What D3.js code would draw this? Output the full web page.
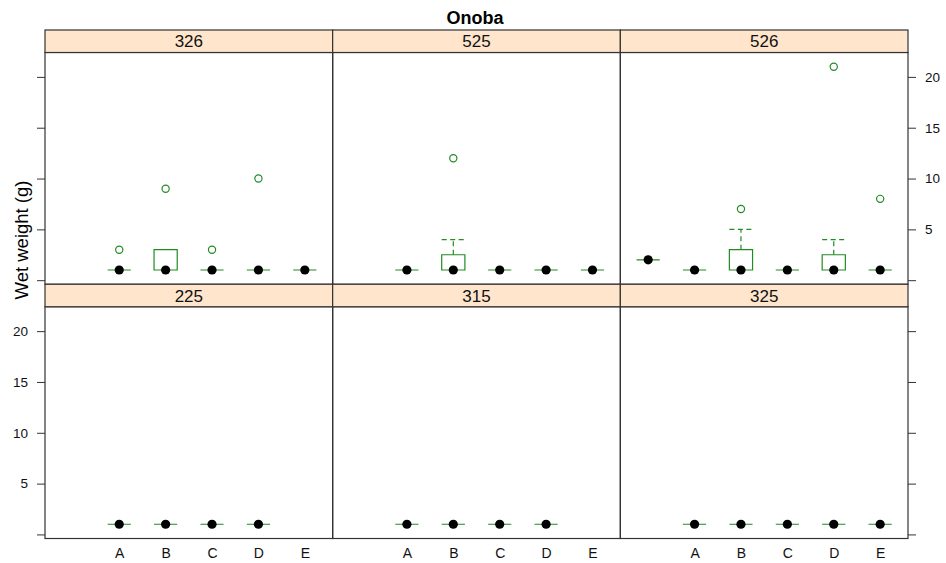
<!DOCTYPE html>
<html>
<head>
<meta charset="utf-8">
<script src="https://cdn.jsdelivr.net/npm/d3@7"></script>
<style>
  body { margin: 0; background: #fff; }
  svg { display: block; font-family: "Liberation Sans", Arial, Helvetica, sans-serif; }
</style>
</head>
<body>
<svg id="chart" width="946" height="563"></svg>
<script>
// ---- data ----
const title = "Onoba";
const yLabel = "Wet weight (g)";
const panelNames = ["326", "525", "526", "225", "315", "325"];
const categories = ["", "A", "B", "C", "D", "E"];
const yTickValues = [0, 5, 10, 15, 20];
const yTickLabels = ["", "5", "10", "15", "20"];

// five-number summaries per category:
// [lower whisker, lower hinge, median, upper hinge, upper whisker]; null = no observations
const stats326 = [null, [1, 1, 1, 1, 1], [1, 1, 1, 3, 3], [1, 1, 1, 1, 1], [1, 1, 1, 1, 1], [1, 1, 1, 1, 1]];
const stats525 = [null, [1, 1, 1, 1, 1], [1, 1, 1, 2.5, 4], [1, 1, 1, 1, 1], [1, 1, 1, 1, 1], [1, 1, 1, 1, 1]];
const stats526 = [[2, 2, 2, 2, 2], [1, 1, 1, 1, 1], [1, 1, 1, 3, 5], [1, 1, 1, 1, 1], [1, 1, 1, 2.5, 4], [1, 1, 1, 1, 1]];
const stats225 = [null, [1, 1, 1, 1, 1], [1, 1, 1, 1, 1], [1, 1, 1, 1, 1], [1, 1, 1, 1, 1], null];
const stats315 = [null, [1, 1, 1, 1, 1], [1, 1, 1, 1, 1], [1, 1, 1, 1, 1], [1, 1, 1, 1, 1], null];
const stats325 = [null, [1, 1, 1, 1, 1], [1, 1, 1, 1, 1], [1, 1, 1, 1, 1], [1, 1, 1, 1, 1], [1, 1, 1, 1, 1]];

// outlying observations: [category, value]
const outliers326 = [["A", 3], ["B", 9], ["C", 3], ["D", 10]];
const outliers525 = [["B", 12]];
const outliers526 = [["B", 7], ["D", 21], ["E", 8]];
const outliers225 = [];
const outliers315 = [];
const outliers325 = [];

const panelStats = [stats326, stats525, stats526, stats225, stats315, stats325];
const panelOutliers = [outliers326, outliers525, outliers526, outliers225, outliers315, outliers325];

// ---- layout ----
const svg = d3.select("#chart");
const gridLeft = 45, gridRight = 908, gridTop = 30, gridBottom = 538.5;
const nCol = 3, nRow = 2;
const stripH = 22.5;
const colW = (gridRight - gridLeft) / nCol;
const rowH = (gridBottom - gridTop) / nRow;
const boxCol = "#228B22";
const frameCol = "#333";
const stripFill = "#ffe5cc";

svg.append("text")
  .attr("x", 475).attr("y", 24)
  .attr("text-anchor", "middle")
  .attr("font-weight", "bold")
  .attr("font-size", 18)
  .attr("fill", "#000")
  .text(title);

svg.append("text")
  .attr("transform", "translate(28,240) rotate(-90)")
  .attr("text-anchor", "middle")
  .attr("font-size", 18.5)
  .attr("fill", "#000")
  .text(yLabel);

function styleAxis(g) {
  g.select(".domain").remove();
  g.selectAll(".tick line").attr("stroke", frameCol);
  g.selectAll(".tick text").attr("fill", "#111");
}

panelNames.forEach((name, i) => {
  const col = i % nCol, row = Math.floor(i / nCol);
  const x0 = gridLeft + col * colW, x1 = x0 + colW;
  const sTop = gridTop + row * rowH;
  const pTop = sTop + stripH, pBottom = sTop + rowH;

  const x = d3.scalePoint().domain(categories).range([x0, x1]).padding(0.6);
  const y = d3.scaleLinear().domain([-0.4, 22.4]).range([pBottom, pTop]);
  const hw = x.step() / 4;

  const g = svg.append("g");

  // y axes: labels alternate between left (bottom row) and right (top row)
  const leftAxis = d3.axisLeft(y).tickValues(yTickValues).tickSize(8).tickPadding(9)
    .tickFormat((d, k) => row === 1 ? yTickLabels[k] : "");
  const rightAxis = d3.axisRight(y).tickValues(yTickValues).tickSize(8).tickPadding(9)
    .tickFormat((d, k) => row === 0 ? yTickLabels[k] : "");
  if (col === 0) {
    g.append("g").attr("transform", `translate(${x0},0)`)
      .call(leftAxis).attr("font-size", 13.5).attr("font-family", null).call(styleAxis);
  }
  if (col === nCol - 1) {
    g.append("g").attr("transform", `translate(${x1},0)`)
      .call(rightAxis).attr("font-size", 13.5).attr("font-family", null).call(styleAxis);
  }
  // x axis labels along the bottom row only
  if (row === nRow - 1) {
    g.append("g").attr("transform", `translate(0,${pBottom})`)
      .call(d3.axisBottom(x).tickSize(0).tickPadding(10))
      .attr("font-size", 14).attr("font-family", null)
      .call(styleAxis);
  }

  // boxes and whiskers
  const stats = panelStats[i];
  const marks = g.append("g");
  categories.forEach((c, j) => {
    const s = stats[j];
    if (!s) return;
    const cx = x(c);
    if (s[4] > s[3]) {
      marks.append("line").attr("x1", cx).attr("x2", cx)
        .attr("y1", y(s[3])).attr("y2", y(s[4]))
        .attr("stroke", boxCol).attr("stroke-width", 1.2).attr("stroke-dasharray", "5,3.5");
      marks.append("line").attr("x1", cx - hw).attr("x2", cx + hw)
        .attr("y1", y(s[4])).attr("y2", y(s[4]))
        .attr("stroke", boxCol).attr("stroke-width", 1.2).attr("stroke-dasharray", "5,3.5");
    }
    if (s[0] < s[1]) {
      marks.append("line").attr("x1", cx).attr("x2", cx)
        .attr("y1", y(s[1])).attr("y2", y(s[0]))
        .attr("stroke", boxCol).attr("stroke-width", 1.2).attr("stroke-dasharray", "5,3.5");
      marks.append("line").attr("x1", cx - hw).attr("x2", cx + hw)
        .attr("y1", y(s[0])).attr("y2", y(s[0]))
        .attr("stroke", boxCol).attr("stroke-width", 1.2).attr("stroke-dasharray", "5,3.5");
    }
    const yl = y(s[1]), yu = y(s[3]);
    marks.append("path")
      .attr("d", `M${cx - hw},${yl}H${cx + hw}V${yu}H${cx - hw}Z`)
      .attr("fill", "none").attr("stroke", boxCol).attr("stroke-width", 1.2);
  });

  // outliers
  marks.selectAll("circle.out").data(panelOutliers[i]).join("circle")
    .attr("class", "out")
    .attr("cx", d => x(d[0])).attr("cy", d => y(d[1])).attr("r", 3.6)
    .attr("fill", "none").attr("stroke", boxCol).attr("stroke-width", 1.2);

  // medians
  categories.forEach((c, j) => {
    const s = stats[j];
    if (!s) return;
    marks.append("circle").attr("cx", x(c)).attr("cy", y(s[2])).attr("r", 4.6).attr("fill", "#000");
  });

  // panel frame
  g.append("rect").attr("x", x0).attr("y", pTop).attr("width", colW).attr("height", pBottom - pTop)
    .attr("fill", "none").attr("stroke", frameCol).attr("stroke-width", 1.2);

  // strip
  g.append("rect").attr("x", x0).attr("y", sTop).attr("width", colW).attr("height", stripH)
    .attr("fill", stripFill).attr("stroke", frameCol).attr("stroke-width", 1.2);
  g.append("text").attr("x", (x0 + x1) / 2).attr("y", sTop + stripH / 2 + 6)
    .attr("text-anchor", "middle").attr("font-size", 17).attr("fill", "#111")
    .text(name);
});
</script>
</body>
</html>
